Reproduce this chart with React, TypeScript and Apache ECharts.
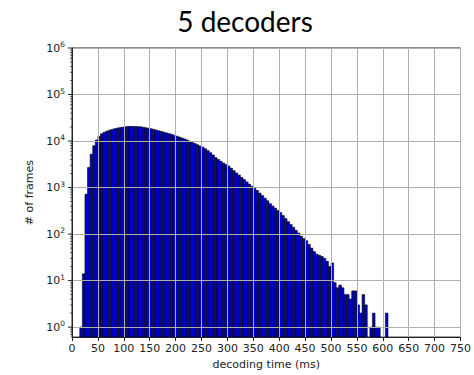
import React, { useEffect, useRef } from "react";
import * as echarts from "echarts";

// histogram bins: 5 ms wide, starting at 15 ms
const BIN_START = 15;
const BIN_WIDTH = 5;
const frameCounts: number[] = [
  1, 14, 720, 2700, 5200, 7900, 10500, 12600, 14300, 15400, // 15-60
  16300, 17100, 17800, 18400, 18900, 19400, 19800, 20200, 20500, 20600, // 65-110
  20600, 20500, 20400, 20200, 19800, 19300, 18900, 18400, 17800, 17200, // 115-160
  16600, 16100, 15500, 14900, 14400, 13900, 13300, 12700, 12200, 11600, // 165-210
  11100, 10500, 9900, 9300, 8800, 8300, 7800, 7400, 6800, 6200, // 215-260
  5600, 5000, 4400, 4000, 3650, 3350, 3100, 2900, 2600, 2300, // 265-310
  2050, 1850, 1650, 1480, 1320, 1180, 1060, 960, 860, 760, // 315-360
  670, 590, 520, 450, 400, 360, 320, 290, 250, 215, // 365-410
  185, 160, 140, 120, 105, 90, 80, 72, 60, 50, // 415-460
  42, 37, 35, 33, 30, 26, 20, 24, 9, 7, // 465-510
  8, 7, 5, 5, 4, 6, 6, 3, 2, 5, // 515-560
  3, 0, 1, 2, 1, 1, 0, 0, 2, // 565-605
];

const xTicks = [0, 50, 100, 150, 200, 250, 300, 350, 400, 450, 500, 550, 600, 650, 700, 750];
const yMajorTicks = [1, 10, 100, 1000, 10000, 100000, 1000000];
const yMinorMultipliers = [2, 3, 4, 5, 6, 7, 8, 9];
const Y_MIN = 0.61;
const Y_MAX = 1000000;

export default function App() {
  const ref = useRef<HTMLDivElement>(null);
  useEffect(() => {
    if (!ref.current) return;
    const chart = echarts.init(ref.current, null, { renderer: "svg" });

    const bars: number[][] = [];
    frameCounts.forEach((c, i) => {
      if (c > 0) {
        const s = BIN_START + i * BIN_WIDTH;
        bars.push([s, s + BIN_WIDTH, c]);
      }
    });

    const tickData: number[][] = [];
    yMajorTicks.forEach((v) => tickData.push([0, v, 1]));
    [0.1, ...yMajorTicks.slice(0, -1)].forEach((base) => {
      yMinorMultipliers.forEach((m) => {
        const v = base * m;
        if (v >= Y_MIN && v <= Y_MAX) tickData.push([0, v, 0]);
      });
    });

    const isPow10 = (v: number) => {
      const l = Math.log10(v);
      return Math.abs(l - Math.round(l)) < 1e-6;
    };

    chart.setOption({
      animation: false,
      grid: {
        left: 72,
        right: 11,
        top: 48,
        bottom: 36,
        show: true,
        borderColor: "#222",
        borderWidth: 1,
        backgroundColor: "transparent",
      },
      graphic: [
        {
          type: "text",
          x: 245,
          y: 21,
          style: {
            text: "5 decoders",
            fontFamily: "Lato",
            fontSize: 28,
            fill: "#000",
            textAlign: "center",
            textVerticalAlign: "middle",
          },
        },
      ],
      xAxis: {
        type: "value",
        min: xTicks[0],
        max: xTicks[xTicks.length - 1],
        interval: 50,
        z: 3,
        name: "decoding time (ms)",
        nameLocation: "middle",
        nameGap: 21,
        nameTextStyle: { fontFamily: "DejaVu Sans", fontSize: 11, color: "#222" },
        axisLine: { show: true, lineStyle: { color: "#222", width: 1 } },
        axisTick: { show: true, length: 4, lineStyle: { color: "#222" } },
        axisLabel: { margin: 6, fontFamily: "DejaVu Sans", fontSize: 11, color: "#222" },
        splitLine: { show: true, lineStyle: { color: "#b0b0b0", width: 1 } },
      },
      yAxis: {
        type: "log",
        logBase: 10,
        min: Y_MIN,
        max: Y_MAX,
        z: 3,
        name: "# of frames",
        nameLocation: "middle",
        nameGap: 33,
        nameTextStyle: { fontFamily: "DejaVu Sans", fontSize: 11, color: "#222" },
        axisLine: { show: true, lineStyle: { color: "#222", width: 1 } },
        axisTick: { show: false },
        axisLabel: {
          margin: 7,
          color: "#222",
          formatter: (v: number) => (isPow10(v) ? `{b|10}{s|${Math.round(Math.log10(v))}}` : ""),
          rich: {
            b: { fontFamily: "DejaVu Sans", fontSize: 11, color: "#222" },
            s: { fontFamily: "DejaVu Sans", fontSize: 7.5, color: "#222", padding: [0, 0, 7, 0] },
          },
        },
        splitLine: { show: true, lineStyle: { color: "#b0b0b0", width: 1 } },
      },
      series: [
        {
          type: "custom",
          z: 2,
          data: bars,
          encode: { x: [0, 1], y: 2 },
          renderItem: (params: any, api: any) => {
            const p0 = api.coord([api.value(0), api.value(2)]);
            const p1 = api.coord([api.value(1), Y_MIN]);
            return {
              type: "rect",
              shape: { x: p0[0], y: p0[1], width: p1[0] - p0[0], height: p1[1] - p0[1] },
              style: { fill: "#0000cc", stroke: "#000", lineWidth: 0.6 },
            };
          },
        },
        {
          type: "custom",
          z: 4,
          clip: false,
          data: tickData,
          encode: { x: 0, y: 1 },
          renderItem: (params: any, api: any) => {
            const p = api.coord([api.value(0), api.value(1)]);
            const len = api.value(2) ? 4 : 2;
            return {
              type: "line",
              shape: { x1: p[0] - len, y1: p[1], x2: p[0], y2: p[1] },
              style: { stroke: "#222", lineWidth: api.value(2) ? 1 : 0.7 },
            };
          },
        },
      ],
    });
    return () => chart.dispose();
  }, []);
  return (
    <div
      ref={ref}
      style={{ position: "fixed", left: 0, top: 0, width: 474, height: 375, background: "#fff" }}
    />
  );
}
